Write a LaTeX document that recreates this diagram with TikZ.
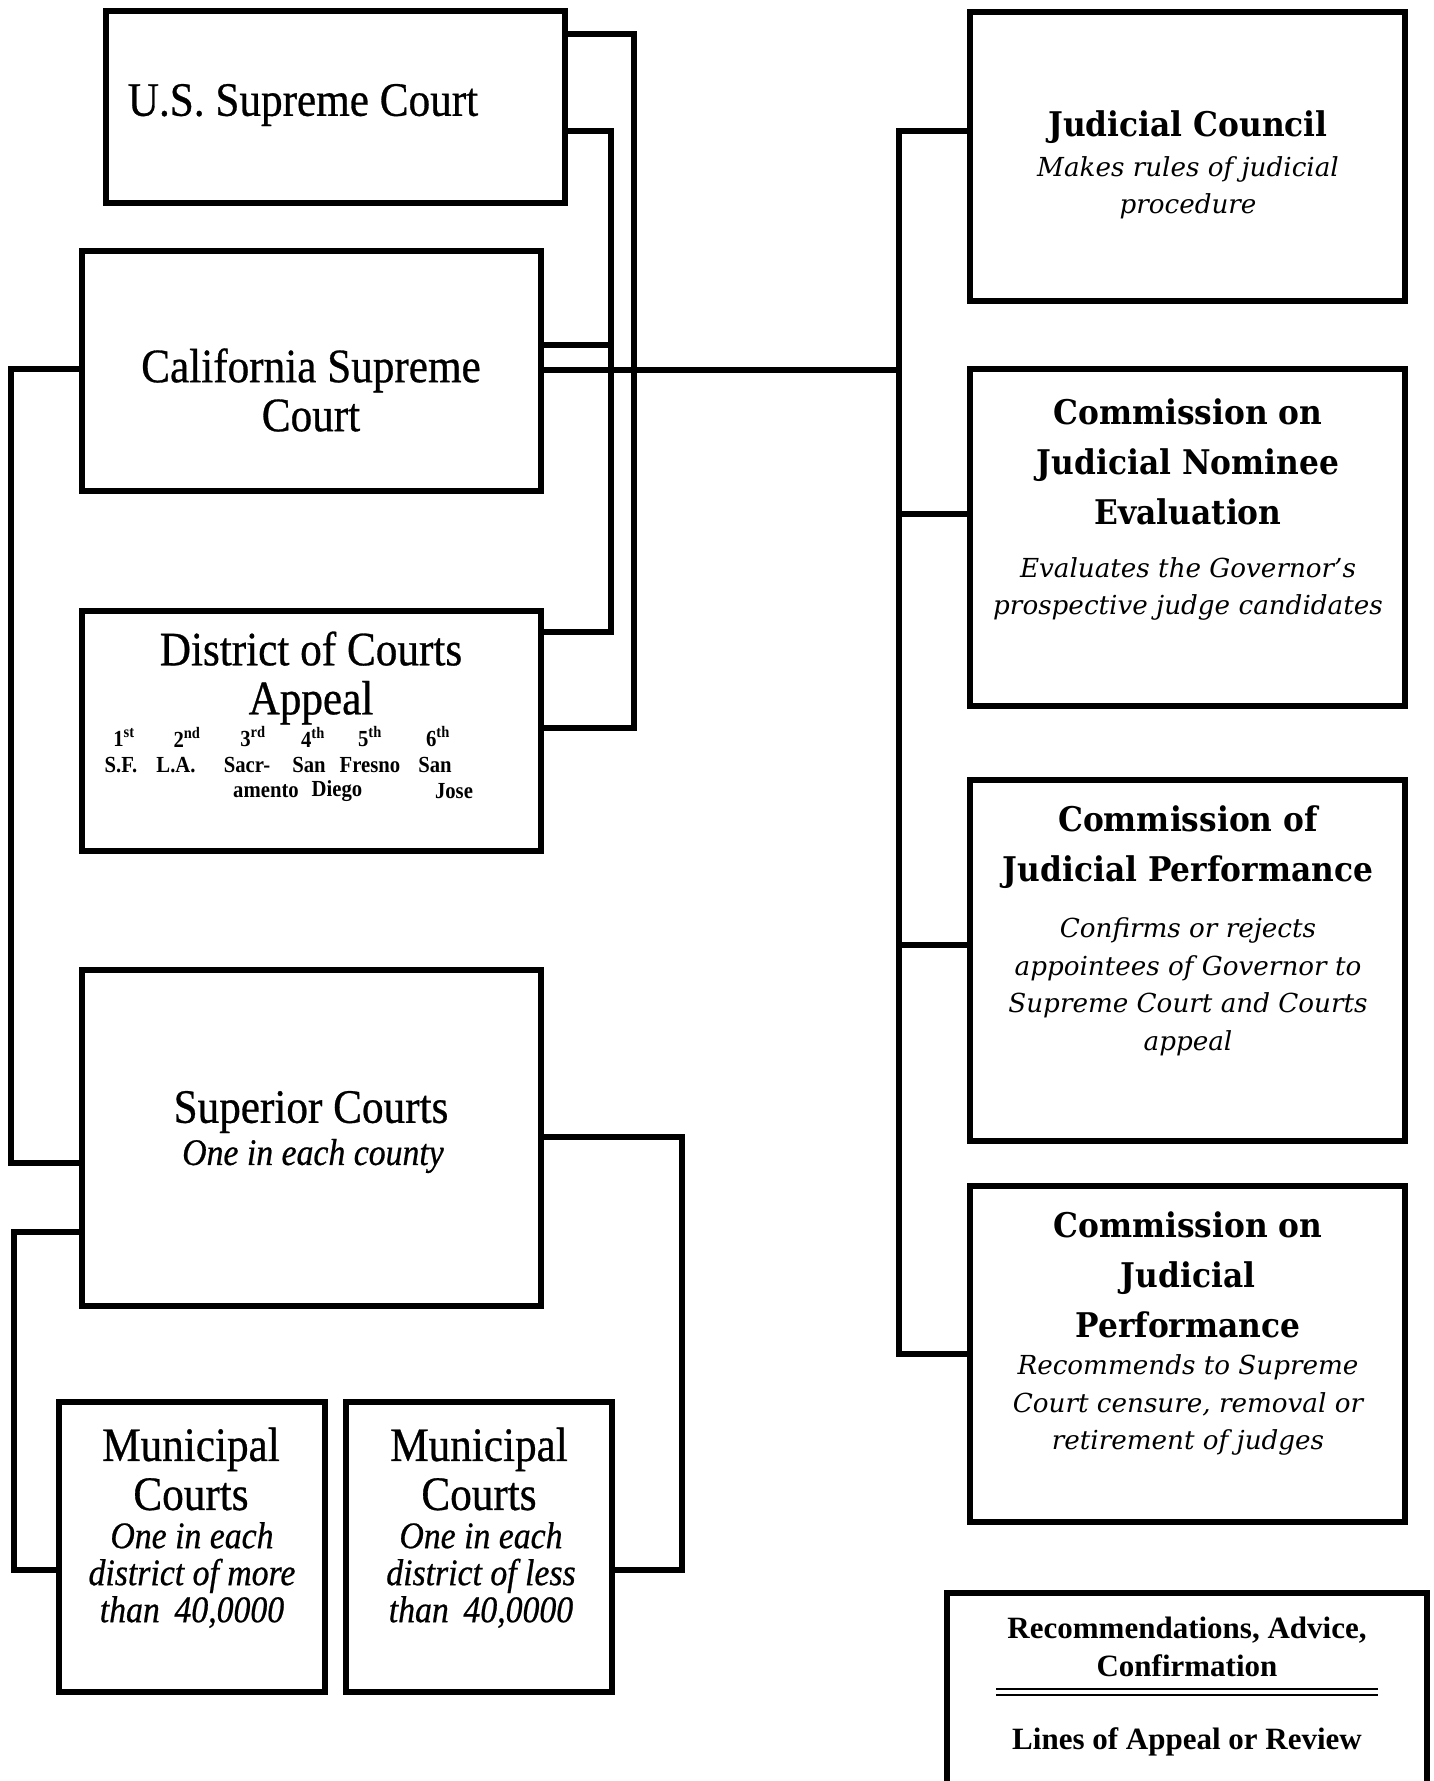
\documentclass[tikz,border=0pt]{standalone}
\usepackage{fontspec}
\setmainfont{Liberation Serif}
\newfontfamily\lfont{Liberation Serif}[FakeStretch=0.9]
\newfontfamily\ltfont{Liberation Serif}[FakeStretch=0.9,FakeBold=0.6]
\newfontfamily\rbfont{DejaVu Serif}[FakeStretch=0.92]
\newfontfamily\rifont{DejaVu Serif}
\begin{document}
\begin{tikzpicture}[x=1pt,y=-1pt,
  box/.style={draw,line width=6pt,inner sep=0pt,anchor=center},
  conn/.style={line width=5.2pt,line join=miter},
  ltitle/.style={font=\ltfont\fontsize{48}{49}\selectfont,align=center,inner sep=0pt},
  litalic/.style={font=\ltfont\itshape\fontsize{37.5}{37}\selectfont,align=center,inner sep=0pt},
  rtitle/.style={font=\rbfont\bfseries\fontsize{34}{50}\selectfont,align=center,inner sep=0pt},
  ritalic/.style={font=\rifont\itshape\fontsize{26.2}{37.5}\selectfont,align=center,inner sep=0pt},
  dsmall/.style={font=\lfont\bfseries\fontsize{23}{28}\selectfont,inner sep=0pt},
  legendtxt/.style={font=\bfseries\fontsize{31}{38}\selectfont,align=center,inner sep=0pt}]
\useasboundingbox[fill=white] (0,0) rectangle (1433,1781);

% left boxes
\node[box,minimum width=459pt,minimum height=192pt] (us) at (335,107) {};
\node[box,minimum width=459pt,minimum height=240pt] (cal) at (311,371) {};
\node[box,minimum width=459pt,minimum height=240pt] (dist) at (311,731) {};
\node[box,minimum width=459pt,minimum height=336pt] (sup) at (311,1138) {};
\node[box,minimum width=266pt,minimum height=290pt] (mun1) at (192,1547) {};
\node[box,minimum width=266pt,minimum height=290pt] (mun2) at (479,1547) {};
% right boxes
\node[box,minimum width=435pt,minimum height=289pt] (jc) at (1187.5,156) {};
\node[box,minimum width=435pt,minimum height=337pt] (nom) at (1187.5,537.5) {};
\node[box,minimum width=435pt,minimum height=361pt] (cjp) at (1187.5,960.5) {};
\node[box,minimum width=435pt,minimum height=336pt] (cojp) at (1187.5,1353.5) {};

% texts left
\node[ltitle] (ust) at (303,105) {U.S. Supreme Court};
\node[ltitle] (calt) at (311,390) {California Supreme\\Court};
\node[ltitle] (distt) at (311,678) {District of Courts\\Appeal};
\node[dsmall] (d1) at (124,737) {1\textsuperscript{st}};
\node[dsmall] (d2) at (187,737) {2\textsuperscript{nd}};
\node[dsmall] (d3) at (253,737) {3\textsuperscript{rd}};
\node[dsmall] (d4) at (313,737) {4\textsuperscript{th}};
\node[dsmall] (d5) at (370,737) {5\textsuperscript{th}};
\node[dsmall] (d6) at (438,737) {6\textsuperscript{th}};
\node[dsmall] (e1) at (121,765) {S.F.};
\node[dsmall] (e2) at (176,765) {L.A.};
\node[dsmall] (e3) at (247,765) {Sacr-};
\node[dsmall] (e4) at (309,765) {San};
\node[dsmall] (e5) at (370,765) {Fresno};
\node[dsmall] (e6) at (435,765) {San};
\node[dsmall] (f3) at (266,791) {amento};
\node[dsmall] (f4) at (337,791) {Diego};
\node[dsmall] (f6) at (454,791) {Jose};
\node[ltitle] (supt) at (311,1112) {Superior Courts};
\node[litalic] (supi) at (313,1156) {One in each county};
\node[ltitle] (mun1t) at (191,1469) {Municipal\\Courts};
\node[litalic] (mun1i) at (192,1575) {One in each\\district of more\\than\, 40,0000};
\node[ltitle] (mun2t) at (479,1469) {Municipal\\Courts};
\node[litalic] (mun2i) at (481,1575) {One in each\\district of less\\than\, 40,0000};

% texts right
\node[rtitle] (jct) at (1188,127) {Judicial Council};
\node[ritalic] (jci) at (1188,188) {Makes rules of judicial\\procedure};
\node[rtitle] (nomt) at (1188,462) {Commission on\\Judicial Nominee\\Evaluation};
\node[ritalic] (nomi) at (1188,589) {Evaluates the Governor’s\\prospective judge candidates};
\node[rtitle] (cjpt) at (1188,847) {Commission of\\Judicial Performance};
\node[ritalic] (cjpi) at (1188,987) {Confirms or rejects\\appointees of Governor to\\Supreme Court and Courts\\appeal};
\node[rtitle] (cojpt) at (1188,1275) {Commission on\\Judicial\\Performance};
\node[ritalic] (cojpi) at (1188,1405) {Recommends to Supreme\\Court censure, removal or\\retirement of judges};

% legend
\node[legendtxt] (leg1) at (1187,1647) {Recommendations, Advice,\\Confirmation};
\node[legendtxt] (leg2) at (1187,1742) {Lines of Appeal or Review};
\coordinate (lgA) at (947,1790);
\coordinate (lgB) at (947,1593);
\coordinate (lgC) at (1427,1593);
\coordinate (lgD) at (1427,1790);
\draw[line width=6pt,line join=miter] (lgA) -- (lgB) -- (lgC) -- (lgD);
\coordinate (dl1) at (996,1689);
\coordinate (dl2) at (1378,1689);
\coordinate (dl3) at (996,1695);
\coordinate (dl4) at (1378,1695);
\draw[line width=2.6pt] (dl1) -- (dl2);
\draw[line width=2.6pt] (dl3) -- (dl4);

% connectors
\coordinate (a1) at (634,34);
\coordinate (a2) at (634,728);
\draw[conn] (us.east |- a1) -- (a1) -- (a2) -- (dist.east |- a2);
\coordinate (b1) at (611,131);
\coordinate (b2) at (611,632);
\draw[conn] (us.east |- b1) -- (b1) -- (b2) -- (dist.east |- b2);
\coordinate (b3) at (611,345);
\draw[conn] (cal.east |- b3) -- (b3);
\coordinate (r0) at (899,370);
\coordinate (r1) at (899,131);
\coordinate (r2) at (899,514);
\coordinate (r3) at (899,945);
\coordinate (r4) at (899,1354);
\draw[conn] (cal.east |- r0) -- (r0);
\draw[conn] (jc.west |- r1) -- (r1) -- (r4) -- (cojp.west |- r4);
\draw[conn] (r2) -- (nom.west |- r2);
\draw[conn] (r3) -- (cjp.west |- r3);
\coordinate (l1) at (11,369);
\coordinate (l2) at (11,1163);
\draw[conn] (cal.west |- l1) -- (l1) -- (l2) -- (sup.west |- l2);
\coordinate (m1) at (14,1232);
\coordinate (m2) at (14,1570);
\draw[conn] (sup.west |- m1) -- (m1) -- (m2) -- (mun1.west |- m2);
\coordinate (n1) at (682,1137);
\coordinate (n2) at (682,1570);
\draw[conn] (sup.east |- n1) -- (n1) -- (n2) -- (mun2.east |- n2);
\end{tikzpicture}
\end{document}
